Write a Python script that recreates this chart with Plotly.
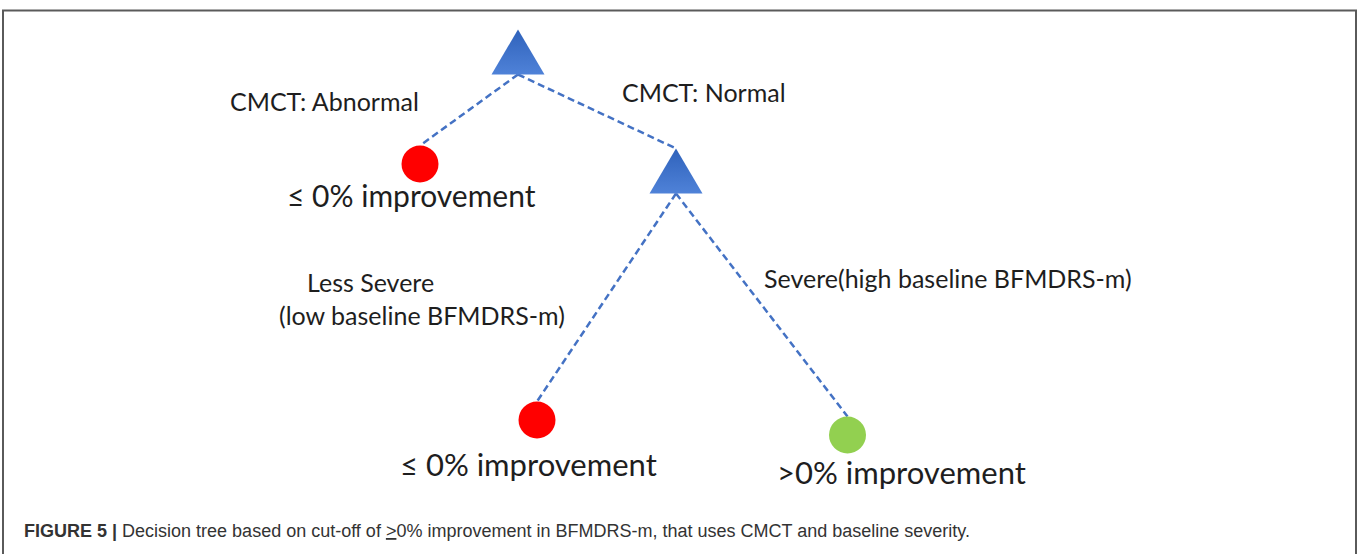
import plotly.graph_objects as go

# ---- data ----
node_names = ["root", "leaf_abn", "split_sev", "leaf_less", "leaf_sev"]
node_kind = ["split", "leaf", "split", "leaf", "leaf"]
node_x = [518, 420, 676, 537, 847.5]
node_y = [52, 164, 171, 420, 435]
node_color = ["#3f72cc", "#ff0000", "#3f72cc", "#ff0000", "#92d050"]
edges = [(0, 1), (0, 2), (2, 3), (2, 4)]

labels = [
    "CMCT: Abnormal",
    "CMCT: Normal",
    "≤ 0% improvement",
    "Less Severe",
    "(low baseline BFMDRS-m)",
    "Severe(high baseline BFMDRS-m)",
    "≤ 0% improvement",
    ">0% improvement",
]
label_x = [228, 620, 285, 305, 277, 762, 398, 775]
label_y = [101, 92, 195, 282, 315, 278, 464, 472]
label_size = [25, 25, 30, 25, 25, 25, 31, 31]

caption = ("<b>FIGURE 5 |</b> Decision tree based on cut-off of <u>&gt;</u>0% improvement "
           "in BFMDRS-m, that uses CMCT and baseline severity.")

# ---- geometry (styles) ----
TRI_W, TRI_H = 53, 45
CIRC_R = 18.5

W, H = 1360, 554
fig = go.Figure()

def top_of(i):
    if node_kind[i] == "split":
        return node_x[i], node_y[i] - TRI_H / 2
    return node_x[i], node_y[i] - CIRC_R

def bottom_of(i):
    if node_kind[i] == "split":
        return node_x[i], node_y[i] + TRI_H / 2
    return node_x[i], node_y[i] + CIRC_R

# edges
for a, b in edges:
    x0, y0 = bottom_of(a)
    x1, y1 = top_of(b)
    fig.add_trace(go.Scatter(x=[x0, x1], y=[y0, y1], mode="lines",
                             line=dict(color="#4472c4", width=2.5, dash="7px,4px"),
                             hoverinfo="skip", showlegend=False))

# split nodes (triangles)
for i, k in enumerate(node_kind):
    if k != "split":
        continue
    cx, cy = node_x[i], node_y[i]
    xs = [cx - TRI_W / 2, cx, cx + TRI_W / 2, cx - TRI_W / 2]
    ys = [cy + TRI_H / 2, cy - TRI_H / 2, cy + TRI_H / 2, cy + TRI_H / 2]
    fig.add_trace(go.Scatter(x=xs, y=ys, mode="lines", fill="toself",
                             line=dict(width=0, color="#3a6cc6"),
                             fillgradient=dict(type="vertical",
                                               colorscale=[[0, "#4f82d8"], [1, "#2f62bb"]]),
                             hoverinfo="skip", showlegend=False))

# leaf nodes (circles)
leaf_idx = [i for i, k in enumerate(node_kind) if k == "leaf"]
fig.add_trace(go.Scatter(x=[node_x[i] for i in leaf_idx], y=[node_y[i] for i in leaf_idx],
                         mode="markers",
                         marker=dict(size=2 * CIRC_R, color=[node_color[i] for i in leaf_idx],
                                     line=dict(width=0)),
                         hoverinfo="skip", showlegend=False))

for t, x, y, s in zip(labels, label_x, label_y, label_size):
    fig.add_annotation(x=x, y=y, text=t, showarrow=False, xanchor="left", yanchor="middle",
                       font=dict(family="Lato", size=s, color="#1e1e1e"))

fig.add_annotation(x=22, y=531, text=caption, showarrow=False, xanchor="left", yanchor="middle",
                   font=dict(family="Liberation Sans, Arial", size=18, color="#333333"))

# frame (paper-referenced so it is not clipped)
fig.add_shape(type="rect", xref="paper", yref="paper",
              x0=3 / W, x1=1356 / W, y0=-0.2, y1=1 - 10.5 / H,
              line=dict(color="#5a5a5a", width=2), fillcolor="rgba(0,0,0,0)")

fig.update_xaxes(range=[0, W], visible=False, fixedrange=True)
fig.update_yaxes(range=[H, 0], visible=False, fixedrange=True)
fig.update_layout(width=W, height=H, margin=dict(l=0, r=0, t=0, b=0),
                  paper_bgcolor="white", plot_bgcolor="white", showlegend=False)

fig.write_html("out.html", config={"displayModeBar": False},
               post_script="document.body.style.margin='0px';document.body.style.overflow='hidden';")
